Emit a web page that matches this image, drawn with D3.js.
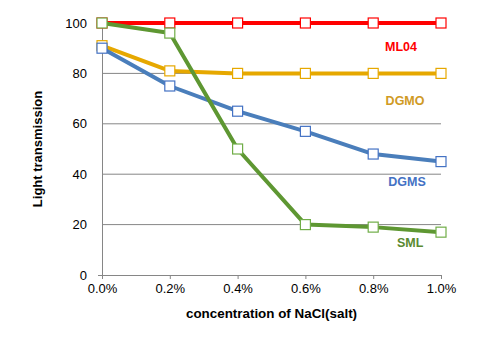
<!DOCTYPE html>
<html>
<head>
<meta charset="utf-8">
<script src="https://cdn.jsdelivr.net/npm/d3@7"></script>
<style>
  body { margin: 0; background: #fff; }
  text { font-family: "Liberation Sans", Arial, sans-serif; }
</style>
</head>
<body>
<svg id="chart" width="501" height="339"></svg>
<script>
// concentrations of NaCl (fraction, shown as %)
const concentrations = [0.0, 0.2, 0.4, 0.6, 0.8, 1.0];
const yTicks = [0, 20, 40, 60, 80, 100];

const ml04 = [100, 100, 100, 100, 100, 100];
const dgmo = [91, 81, 80, 80, 80, 80];
const dgms = [90, 75, 65, 57, 48, 45];
const sml = [100, 96, 50, 20, 19, 17];

const seriesNames = ["ML04", "DGMO", "DGMS", "SML"];
const seriesValues = [ml04, dgmo, dgms, sml];
const lineColors = ["#ff0000", "#e6a800", "#4a7ebb", "#5e9732"];
const markerColors = ["#ff0000", "#e6a800", "#4472c4", "#70ad47"];
const labelColors = ["#ff0000", "#d09a24", "#4472c4", "#5a8a30"];
// label anchor positions in data units (x, y)
const labelPos = [[0.882, 90.5], [0.894, 69], [0.9, 37], [0.909, 12.7]];

const svg = d3.select("#chart");
const margin = { left: 102, right: 60, top: 23, bottom: 64 };
const width = 501, height = 339;

var x = d3.scaleLinear().domain([0, 1.0]).range([margin.left, width - margin.right]);
var y = d3.scaleLinear().domain([0, 100]).range([height - margin.bottom, margin.top]);

// gridlines
svg.append("g")
  .selectAll("line")
  .data(yTicks.filter((d) => d > 0))
  .enter()
  .append("line")
  .attr("x1", x(0))
  .attr("x2", x(1.0))
  .attr("y1", (d) => y(d))
  .attr("y2", (d) => y(d))
  .attr("stroke", "#868686")
  .attr("stroke-width", 1);

// y axis
var yAxis = svg.append("g")
  .attr("transform", "translate(" + x(0) + ",0)")
  .call(d3.axisLeft(y).tickValues(yTicks).tickSize(0).tickPadding(15));
yAxis.select(".domain").attr("stroke", "#868686");
yAxis.selectAll("text").attr("font-size", 13).attr("fill", "#000");

// x axis
var xAxis = svg.append("g")
  .attr("transform", "translate(0," + y(0) + ")")
  .call(d3.axisBottom(x).tickValues(concentrations).tickSize(4).tickPadding(5)
    .tickFormat((d) => d.toFixed(1) + "%"));
xAxis.select(".domain").attr("stroke", "#868686").attr("d", "M" + (x(0) - 4) + ",0.5H" + x(1.0));
xAxis.selectAll("line").attr("stroke", "#868686");
xAxis.selectAll("text").attr("font-size", 13).attr("fill", "#000");

// series
var line = d3.line()
  .x((d, i) => x(concentrations[i]))
  .y((d) => y(d));

seriesValues.forEach(function (vals, s) {
  var g = svg.append("g").attr("class", "series " + seriesNames[s]);
  g.append("path")
    .datum(vals)
    .attr("fill", "none")
    .attr("stroke", lineColors[s])
    .attr("stroke-width", 4)
    .attr("stroke-linejoin", "round")
    .attr("d", line);
  g.selectAll("rect")
    .data(vals)
    .enter()
    .append("rect")
    .attr("x", (d, i) => x(concentrations[i]) - 5)
    .attr("y", (d) => y(d) - 5)
    .attr("width", 10)
    .attr("height", 10)
    .attr("fill", "#fff")
    .attr("stroke", markerColors[s])
    .attr("stroke-width", 1.2);
});

// series labels
svg.append("g")
  .selectAll("text")
  .data(seriesNames)
  .enter()
  .append("text")
  .attr("x", (d, i) => x(labelPos[i][0]))
  .attr("y", (d, i) => y(labelPos[i][1]))
  .attr("text-anchor", "middle")
  .attr("dy", "0.35em")
  .attr("font-size", 12.5)
  .attr("font-weight", "bold")
  .attr("fill", (d, i) => labelColors[i])
  .text((d) => d);

// axis titles
svg.append("text")
  .attr("transform", "translate(37," + (y(50)) + ") rotate(-90)")
  .attr("text-anchor", "middle")
  .attr("dy", "0.35em")
  .attr("font-size", 13)
  .attr("font-weight", "bold")
  .text("Light transmission");

svg.append("text")
  .attr("x", x(0.5))
  .attr("y", 313)
  .attr("text-anchor", "middle")
  .attr("dy", "0.35em")
  .attr("font-size", 13.4)
  .attr("font-weight", "bold")
  .text("concentration of NaCl(salt)");
</script>
</body>
</html>
